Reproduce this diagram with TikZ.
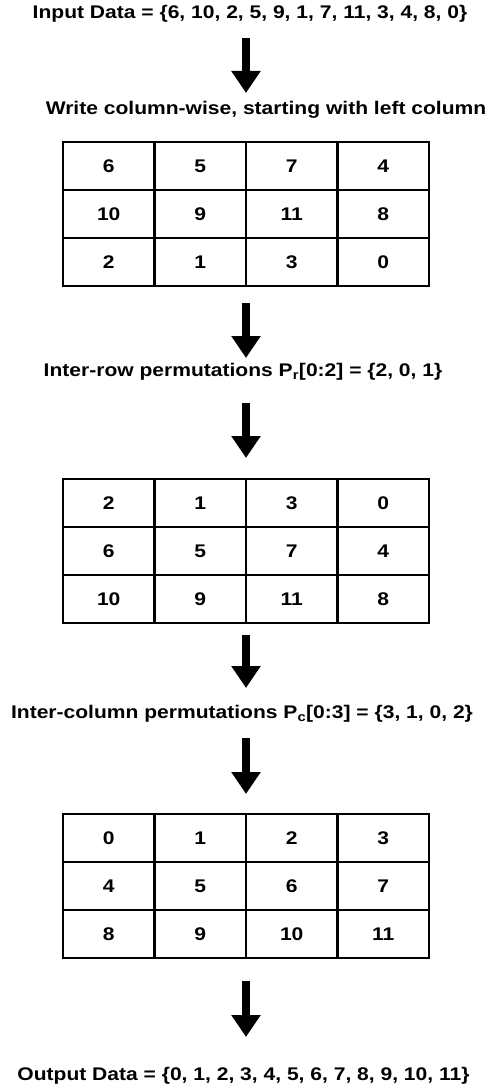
\documentclass[tikz,border=0pt]{standalone}
\usepackage{fontspec}
\setmainfont{Liberation Sans}[FakeStretch=1.15]
\usetikzlibrary{arrows.meta,matrix,calc,positioning}

\tikzset{
  lbl/.style={inner sep=0pt, font=\fontsize{18.3}{22}\selectfont\bfseries},
  permtab/.style={matrix of nodes, anchor=north, inner sep=0pt, outer sep=0pt,
    column sep=-2.2pt, row sep=-2.2pt,
    nodes={draw, line width=2.2pt, minimum width=91.5pt, minimum height=48pt,
      inner sep=0pt, outer sep=0pt, anchor=center,
      font=\fontsize{18.3}{22}\selectfont\bfseries}},
  bigarrow/.style={line width=8pt, -{Triangle[width=28pt,length=22pt]}}
}

\begin{document}
\begin{tikzpicture}[x=1pt,y=-1pt]
\useasboundingbox (0,0) rectangle (486,1091);

% labels
\node[lbl] (in) at (250,14) {Input Data = \{6, 10, 2, 5, 9, 1, 7, 11, 3, 4, 8, 0\}};
\node[lbl] (write) at (266,110) {Write column-wise, starting with left column};
\node[lbl] (row) at (243,372) {Inter-row permutations P\textsubscript{r}[0:2] = \{2, 0, 1\}};
\node[lbl] (col) at (242,714) {Inter-column permutations P\textsubscript{c}[0:3] = \{3, 1, 0, 2\}};
\node[lbl] (out) at (243.5,1076) {Output Data = \{0, 1, 2, 3, 4, 5, 6, 7, 8, 9, 10, 11\}};

% tables
\matrix[permtab] (tabA) at (246,141) {
  6  & 5 & 7  & 4 \\
  10 & 9 & 11 & 8 \\
  2  & 1 & 3  & 0 \\
};
\matrix[permtab] (tabB) at (246,478) {
  2  & 1 & 3  & 0 \\
  6  & 5 & 7  & 4 \\
  10 & 9 & 11 & 8 \\
};
\matrix[permtab] (tabC) at (246,813) {
  0 & 1 & 2  & 3 \\
  4 & 5 & 6  & 7 \\
  8 & 9 & 10 & 11 \\
};

% arrows
\draw[bigarrow] ([yshift=-24pt]in.center -| tabA) -- ([yshift=17pt]write.center -| tabA);
\draw[bigarrow] ([yshift=-16pt]tabA.south) -- ([yshift=14pt]row.center -| tabA);
\draw[bigarrow] ([yshift=-31pt]row.center -| tabB) -- ([yshift=20pt]tabB.north);
\draw[bigarrow] ([yshift=-11pt]tabB.south) -- ([yshift=26pt]col.center -| tabB);
\draw[bigarrow] ([yshift=-24pt]col.center -| tabC) -- ([yshift=19pt]tabC.north);
\draw[bigarrow] ([yshift=-22pt]tabC.south) -- ([yshift=39pt]out.center -| tabC);
\end{tikzpicture}
\end{document}
